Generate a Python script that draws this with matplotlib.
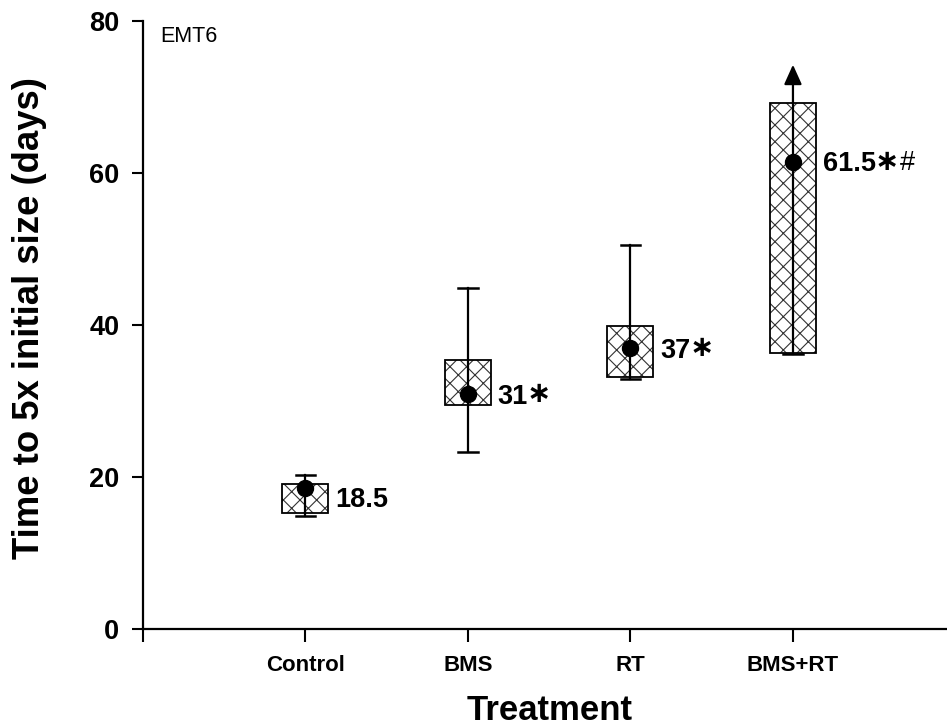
import matplotlib
matplotlib.use("Agg")
import matplotlib.pyplot as plt

plt.rcParams['font.family'] = ['Liberation Sans', 'DejaVu Sans']
plt.rcParams['hatch.linewidth'] = 0.8
plt.rcParams['hatch.color'] = '#333333'

# ---- data ----
categories = ['Control', 'BMS', 'RT', 'BMS+RT']
means = [18.5, 30.9, 37.0, 61.4]
box_low = [15.3, 29.5, 33.1, 36.3]
box_high = [19.1, 35.4, 39.8, 69.1]
whisker_low = [14.8, 23.3, 32.9, 36.2]
whisker_high = [20.2, 44.9, 50.5, 74.2]
open_ended = [False, False, False, True]
value_labels = ['18.5', '31', '37', '61.5']
label_marks = ['', '\u2217', '\u2217', '\u2217']
label_suffix = ['', '', '', '#']
y_ticks = [0, 20, 40, 60, 80]

fig = plt.figure(figsize=(9.47, 7.27), dpi=100)
ax = fig.add_axes([143 / 947, 1 - 629 / 727, 1 - 143 / 947, (629 - 20.6) / 727])

xs = list(range(1, len(categories) + 1))
bw = 0.283
for i, x in enumerate(xs):
    lo, hi = box_low[i], box_high[i]
    ax.bar(x, hi - lo, bottom=lo, width=bw, color='white', edgecolor='#333333',
           hatch='xx', linewidth=0, zorder=2)
    ax.bar(x, hi - lo, bottom=lo, width=bw, fill=False, edgecolor='black',
           linewidth=1.3, zorder=3)
    wl, wh = whisker_low[i], whisker_high[i]
    if open_ended[i]:
        ax.plot([x, x], [wl, hi], color='black', lw=1.6, zorder=4)
        ax.annotate('', xy=(x, wh), xytext=(x, hi),
                    arrowprops=dict(arrowstyle='-|>,head_length=0.6,head_width=0.27',
                                    color='black', lw=1.6, shrinkA=0, shrinkB=0,
                                    mutation_scale=20), zorder=4)
        ax.plot([x - 0.06, x + 0.06], [wl, wl], color='black', lw=1.8, zorder=4)
    else:
        ax.plot([x, x], [wl, wh], color='black', lw=1.6, zorder=4)
        for w in (wl, wh):
            ax.plot([x - 0.06, x + 0.06], [w, w], color='black', lw=1.8, zorder=4)
    ax.plot(x, means[i], 'o', color='black', markersize=11.5, zorder=5)

label_dy = [-2.5, -1.3, -1.3, -1.2]
for i, x in enumerate(xs):
    t = ax.text(x + 0.183, means[i] + label_dy[i], value_labels[i], fontsize=19.5,
                fontweight='bold', ha='left', va='baseline', zorder=6)
    last = t
    if label_marks[i]:
        last = ax.annotate(label_marks[i], xy=(1, 0), xycoords=t, fontsize=21,
                           fontweight='bold', ha='left', va='baseline',
                           family=['DejaVu Sans'],
                           xytext=(-1, 5.5), textcoords='offset points')
    if label_suffix[i]:
        ax.annotate(label_suffix[i], xy=(1, 0), xycoords=(last, t), fontsize=19.5,
                    fontweight='normal', ha='left', va='baseline',
                    xytext=(0.5, 5.5), textcoords='offset points')

ax.set_xlim(0, 4.948)
ax.set_ylim(0, 80)
ax.set_yticks(y_ticks)
ax.set_yticklabels([str(v) for v in y_ticks], fontsize=19.5, fontweight='bold')
ax.set_xticks([0] + xs)
ax.set_xticklabels([''] + categories, fontsize=16, fontweight='bold')
ax.tick_params(axis='y', direction='out', length=8, width=1.5, pad=9)
ax.tick_params(axis='x', direction='out', length=9, width=1.5, pad=10)
for s in ['top', 'right']:
    ax.spines[s].set_visible(False)
for s in ['left', 'bottom']:
    ax.spines[s].set_linewidth(1.6)

ax.text(0.105, 77.9, 'EMT6', fontsize=15.5, ha='left', va='center')

fig.text(30 / 947, 1 - 318 / 727, 'Time to 5x initial size (days)', rotation=90,
         fontsize=26.3, fontweight='bold', ha='center', va='center')
fig.text(549.5 / 947, 1 - 720 / 727, 'Treatment', fontsize=25, fontweight='bold',
         ha='center', va='baseline')

fig.savefig('out.png', dpi=100)
